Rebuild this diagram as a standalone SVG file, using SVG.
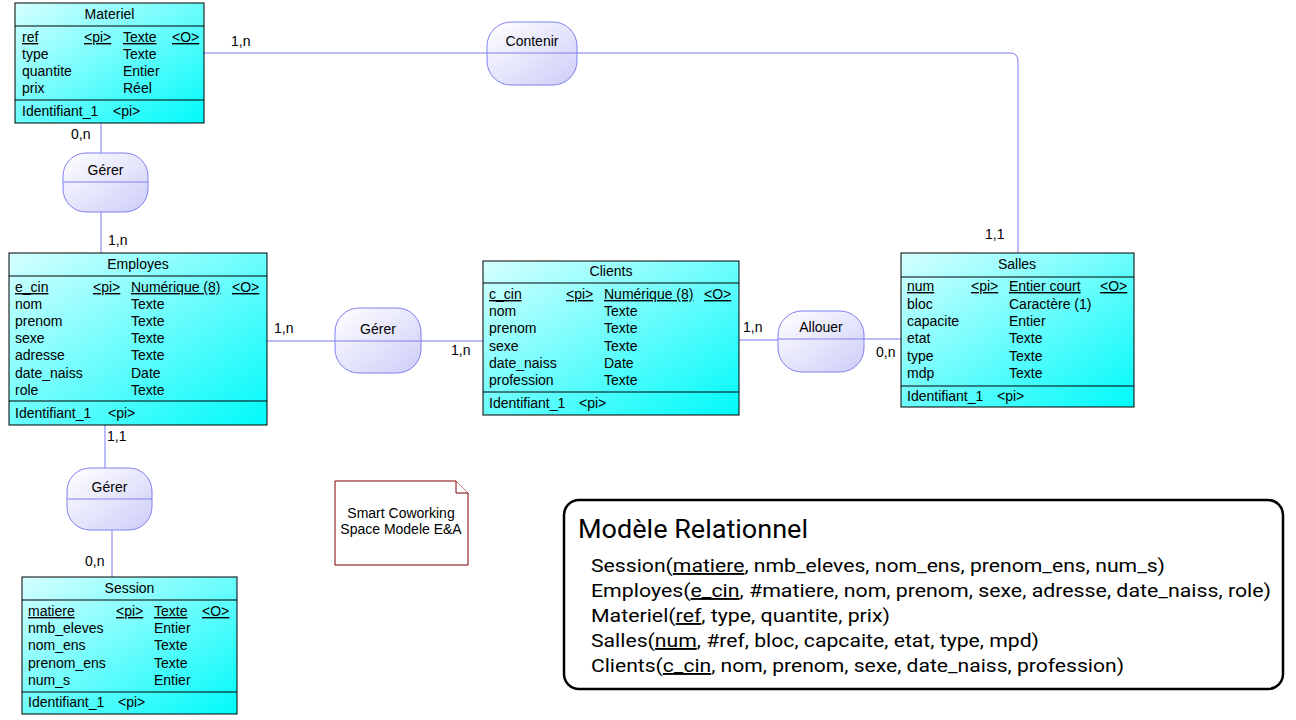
<svg xmlns="http://www.w3.org/2000/svg" width="1296" height="720" viewBox="0 0 1296 720">
<defs>
<linearGradient id="ent" x1="0" y1="0" x2="1" y2="1">
<stop offset="0" stop-color="#d6ffff"/>
<stop offset="1" stop-color="#00fafa"/>
</linearGradient>
<linearGradient id="asc" x1="0" y1="0" x2="1" y2="1">
<stop offset="0" stop-color="#ffffff"/>
<stop offset="1" stop-color="#cdcdf8"/>
</linearGradient>
<style>
.ebox{fill:url(#ent);stroke:#000;stroke-width:1}
.esep{stroke:#000;stroke-width:1}
.t{font-family:"Liberation Sans",Arial,sans-serif;font-size:14px;fill:#000}
.tc{text-anchor:middle}
.u{text-decoration:underline}
.abox{fill:url(#asc);stroke:#8080f0;stroke-width:1}
.asep{stroke:#8080f0;stroke-width:1}
.con{fill:none;stroke:#7b7bef;stroke-width:1}
.card{font-family:"Liberation Sans",Arial,sans-serif;font-size:14px;fill:#000}
.note{fill:#fff;stroke:#800000;stroke-width:1}
.nt{font-family:"Liberation Sans",Arial,sans-serif;font-size:14px;fill:#000;text-anchor:middle}
.rel{font-family:Roboto,"Liberation Sans",sans-serif;font-size:19px;fill:#000}
.relt{font-family:Roboto,"Liberation Sans",sans-serif;font-size:25px;fill:#000}
</style>
</defs>
<rect width="1296" height="720" fill="#fff"/>

<g id="connectors">
<path class="con" d="M204,53 H487"/>
<path class="con" d="M577,53 H1010 Q1018,53 1018,61 V253"/>
<path class="con" d="M101,123 V153"/>
<path class="con" d="M101,212 V253"/>
<path class="con" d="M267,341 H335"/>
<path class="con" d="M421,341 H483"/>
<path class="con" d="M739,340 H778"/>
<path class="con" d="M864,339 H901"/>
<path class="con" d="M105,425 V468"/>
<path class="con" d="M112,530 V577"/>
<text class="card" x="231" y="46">1,n</text>
<text class="card" x="985" y="239">1,1</text>
<text class="card" x="71" y="139">0,n</text>
<text class="card" x="108" y="245">1,n</text>
<text class="card" x="274" y="333">1,n</text>
<text class="card" x="451" y="355">1,n</text>
<text class="card" x="743" y="332">1,n</text>
<text class="card" x="876" y="357">0,n</text>
<text class="card" x="107" y="441">1,1</text>
<text class="card" x="85" y="566">0,n</text>
</g>

<g id="Materiel">
<rect class="ebox" x="15" y="3" width="189" height="120"/>
<line class="esep" x1="15" y1="26" x2="204" y2="26"/>
<line class="esep" x1="15" y1="100" x2="204" y2="100"/>
<text class="t tc" x="109.5" y="19">Materiel</text>
<text class="t u" x="22" y="42">ref</text><text class="t u" x="84" y="42">&lt;pi&gt;</text><text class="t u" x="123" y="42">Texte</text><text class="t u" x="172" y="42">&lt;O&gt;</text>
<text class="t" x="22" y="59">type</text><text class="t" x="123" y="59">Texte</text>
<text class="t" x="22" y="76">quantite</text><text class="t" x="123" y="76">Entier</text>
<text class="t" x="22" y="93">prix</text><text class="t" x="123" y="93">Réel</text>
<text class="t" x="22" y="116">Identifiant_1</text><text class="t" x="113" y="116">&lt;pi&gt;</text>
</g>

<g id="Employes">
<rect class="ebox" x="9" y="253" width="258" height="172"/>
<line class="esep" x1="9" y1="276" x2="267" y2="276"/>
<line class="esep" x1="9" y1="401" x2="267" y2="401"/>
<text class="t tc" x="138" y="269">Employes</text>
<text class="t u" x="15" y="292">e_cin</text><text class="t u" x="93" y="292">&lt;pi&gt;</text><text class="t u" x="131" y="292">Numérique (8)</text><text class="t u" x="232" y="292">&lt;O&gt;</text>
<text class="t" x="15" y="309">nom</text><text class="t" x="131" y="309">Texte</text>
<text class="t" x="15" y="326">prenom</text><text class="t" x="131" y="326">Texte</text>
<text class="t" x="15" y="343">sexe</text><text class="t" x="131" y="343">Texte</text>
<text class="t" x="15" y="360">adresse</text><text class="t" x="131" y="360">Texte</text>
<text class="t" x="15" y="378">date_naiss</text><text class="t" x="131" y="378">Date</text>
<text class="t" x="15" y="395">role</text><text class="t" x="131" y="395">Texte</text>
<text class="t" x="15" y="418">Identifiant_1</text><text class="t" x="108" y="418">&lt;pi&gt;</text>
</g>

<g id="Clients">
<rect class="ebox" x="483" y="261" width="256" height="154"/>
<line class="esep" x1="483" y1="283" x2="739" y2="283"/>
<line class="esep" x1="483" y1="392" x2="739" y2="392"/>
<text class="t tc" x="611" y="276">Clients</text>
<text class="t u" x="489" y="299">c_cin</text><text class="t u" x="566" y="299">&lt;pi&gt;</text><text class="t u" x="604" y="299">Numérique (8)</text><text class="t u" x="704" y="299">&lt;O&gt;</text>
<text class="t" x="489" y="316">nom</text><text class="t" x="604" y="316">Texte</text>
<text class="t" x="489" y="333">prenom</text><text class="t" x="604" y="333">Texte</text>
<text class="t" x="489" y="351">sexe</text><text class="t" x="604" y="351">Texte</text>
<text class="t" x="489" y="368">date_naiss</text><text class="t" x="604" y="368">Date</text>
<text class="t" x="489" y="385">profession</text><text class="t" x="604" y="385">Texte</text>
<text class="t" x="489" y="408">Identifiant_1</text><text class="t" x="579" y="408">&lt;pi&gt;</text>
</g>

<g id="Salles">
<rect class="ebox" x="901" y="253" width="233" height="154"/>
<line class="esep" x1="901" y1="277" x2="1134" y2="277"/>
<line class="esep" x1="901" y1="386" x2="1134" y2="386"/>
<text class="t tc" x="1017" y="269">Salles</text>
<text class="t u" x="907" y="291">num</text><text class="t u" x="971" y="291">&lt;pi&gt;</text><text class="t u" x="1009" y="291">Entier court</text><text class="t u" x="1100" y="291">&lt;O&gt;</text>
<text class="t" x="907" y="309">bloc</text><text class="t" x="1009" y="309">Caractère (1)</text>
<text class="t" x="907" y="326">capacite</text><text class="t" x="1009" y="326">Entier</text>
<text class="t" x="907" y="343">etat</text><text class="t" x="1009" y="343">Texte</text>
<text class="t" x="907" y="361">type</text><text class="t" x="1009" y="361">Texte</text>
<text class="t" x="907" y="378">mdp</text><text class="t" x="1009" y="378">Texte</text>
<text class="t" x="907" y="401">Identifiant_1</text><text class="t" x="997" y="401">&lt;pi&gt;</text>
</g>

<g id="Session">
<rect class="ebox" x="22" y="577" width="215" height="137"/>
<line class="esep" x1="22" y1="600" x2="237" y2="600"/>
<line class="esep" x1="22" y1="692" x2="237" y2="692"/>
<text class="t tc" x="129.5" y="593">Session</text>
<text class="t u" x="28" y="616">matiere</text><text class="t u" x="116" y="616">&lt;pi&gt;</text><text class="t u" x="154" y="616">Texte</text><text class="t u" x="202" y="616">&lt;O&gt;</text>
<text class="t" x="28" y="633">nmb_eleves</text><text class="t" x="154" y="633">Entier</text>
<text class="t" x="28" y="650">nom_ens</text><text class="t" x="154" y="650">Texte</text>
<text class="t" x="28" y="668">prenom_ens</text><text class="t" x="154" y="668">Texte</text>
<text class="t" x="28" y="685">num_s</text><text class="t" x="154" y="685">Entier</text>
<text class="t" x="28" y="707">Identifiant_1</text><text class="t" x="118" y="707">&lt;pi&gt;</text>
</g>

<g id="Contenir">
<rect class="abox" x="487" y="22" width="90" height="63" rx="24" ry="24"/>
<line class="asep" x1="487" y1="53" x2="577" y2="53"/>
<text class="t tc" x="532" y="46">Contenir</text>
</g>

<g id="Gerer_Materiel">
<rect class="abox" x="63" y="153" width="85" height="59" rx="23" ry="23"/>
<line class="asep" x1="63" y1="182" x2="148" y2="182"/>
<text class="t tc" x="105.5" y="175">Gérer</text>
</g>

<g id="Gerer_Clients">
<rect class="abox" x="335" y="308" width="86" height="65" rx="24" ry="24"/>
<line class="asep" x1="335" y1="341" x2="421" y2="341"/>
<text class="t tc" x="378" y="334">Gérer</text>
</g>

<g id="Gerer_Session">
<rect class="abox" x="67" y="468" width="85" height="62" rx="23" ry="23"/>
<line class="asep" x1="67" y1="499" x2="152" y2="499"/>
<text class="t tc" x="109.5" y="492">Gérer</text>
</g>

<g id="Allouer">
<rect class="abox" x="778" y="311" width="86" height="61" rx="24" ry="24"/>
<line class="asep" x1="778" y1="339" x2="864" y2="339"/>
<text class="t tc" x="821" y="332">Allouer</text>
</g>

<g id="Note">
<path class="note" d="M335,481 H456 L468,493 V565 H335 Z"/>
<path class="note" d="M456,481 V493 H468" fill="none"/>
<text class="nt" x="401" y="518">Smart Coworking</text>
<text class="nt" x="401" y="534">Space Modele E&amp;A</text>
</g>

<g id="ModeleRelationnel">
<rect x="564" y="500" width="719" height="189" rx="15" ry="15" fill="#fff" stroke="#000" stroke-width="2.5"/>
<text class="relt" x="578" y="538" textLength="230" lengthAdjust="spacingAndGlyphs">Modèle Relationnel</text>
<text class="rel" x="591" y="572" textLength="574" lengthAdjust="spacingAndGlyphs">Session(<tspan class="u">matiere</tspan>, nmb_eleves, nom_ens, prenom_ens, num_s)</text>
<text class="rel" x="591" y="597" textLength="680" lengthAdjust="spacingAndGlyphs">Employes(<tspan class="u">e_cin</tspan>, #matiere, nom, prenom, sexe, adresse, date_naiss, role)</text>
<text class="rel" x="591" y="622" textLength="299" lengthAdjust="spacingAndGlyphs">Materiel(<tspan class="u">ref</tspan>, type, quantite, prix)</text>
<text class="rel" x="591" y="647" textLength="448" lengthAdjust="spacingAndGlyphs">Salles(<tspan class="u">num</tspan>, #ref, bloc, capcaite, etat, type, mpd)</text>
<text class="rel" x="591" y="672" textLength="533" lengthAdjust="spacingAndGlyphs">Clients(<tspan class="u">c_cin</tspan>, nom, prenom, sexe, date_naiss, profession)</text>
</g>
</svg>
